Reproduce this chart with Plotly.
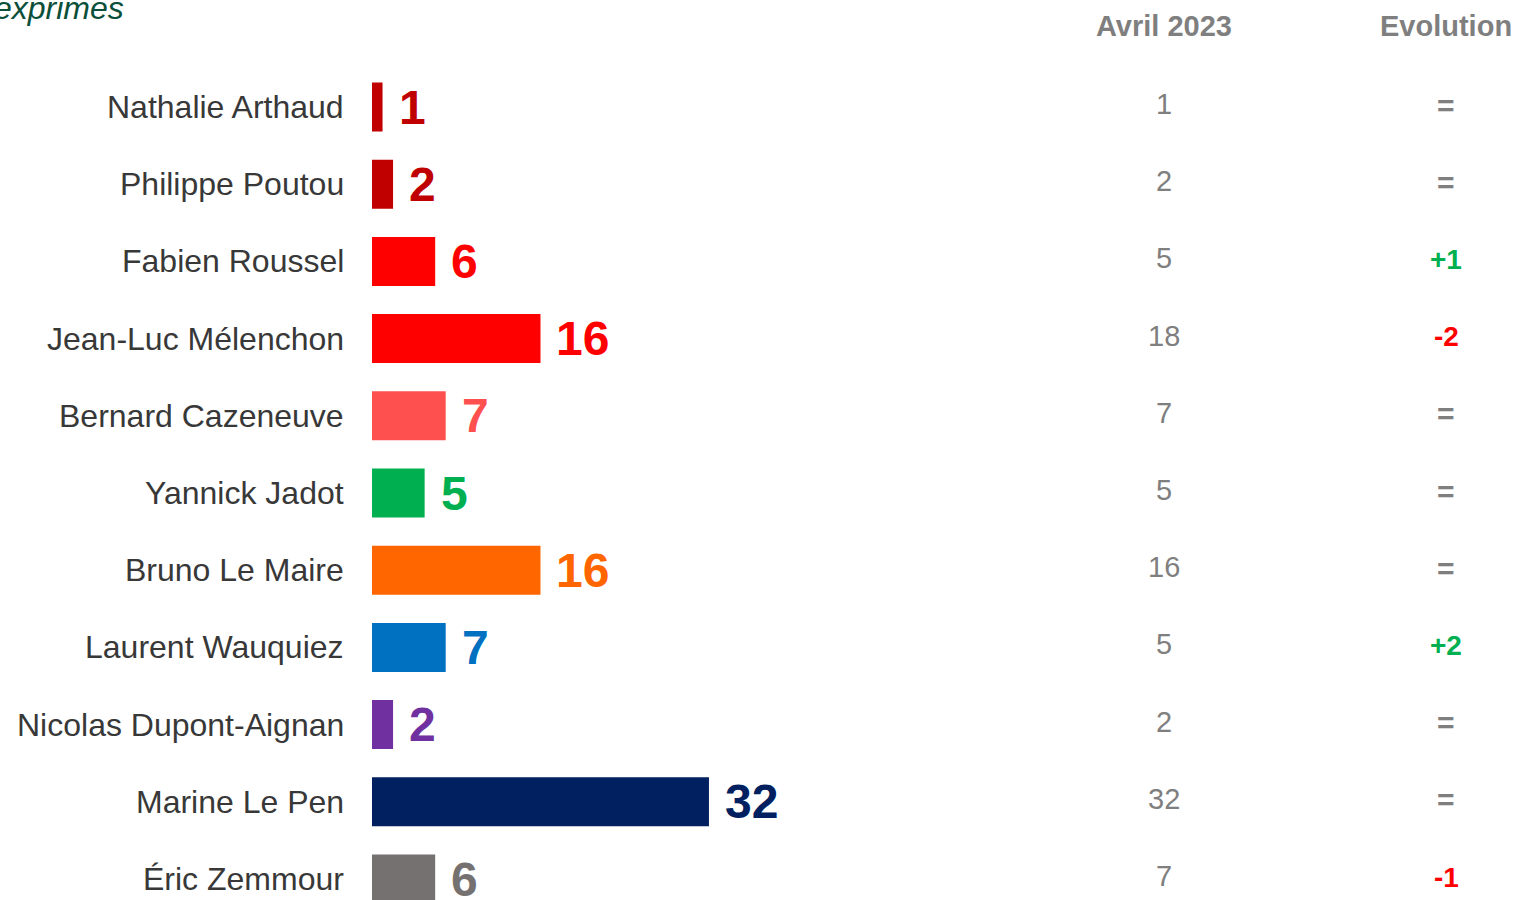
import plotly.graph_objects as go

candidates = ["Nathalie Arthaud", "Philippe Poutou", "Fabien Roussel", "Jean-Luc Mélenchon",
              "Bernard Cazeneuve", "Yannick Jadot", "Bruno Le Maire", "Laurent Wauquiez",
              "Nicolas Dupont-Aignan", "Marine Le Pen", "Éric Zemmour"]
values = [1, 2, 6, 16, 7, 5, 16, 7, 2, 32, 6]
avril_2023 = [1, 2, 5, 18, 7, 5, 16, 5, 2, 32, 7]
evolution = ["=", "=", "+1", "-2", "=", "=", "=", "+2", "=", "=", "-1"]
colors = ["#C00000", "#C00000", "#FF0000", "#FF0000", "#FF5050", "#00B050",
          "#FF6600", "#0070C0", "#7030A0", "#002060", "#767171"]

FONT = "Liberation Sans, Arial, sans-serif"
idx = list(range(len(candidates)))

fig = go.Figure()
fig.add_trace(go.Bar(
    y=idx, x=values, orientation="h", width=0.635,
    marker=dict(color=colors, line=dict(width=0)),
    hoverinfo="skip",
))

ann = []
for i, (name, v, a, e, c) in enumerate(zip(candidates, values, avril_2023, evolution, colors)):
    ann.append(dict(x=0, y=i, xref="x", yref="y", text=name, showarrow=False,
                    xanchor="right", yanchor="middle", xshift=-26,
                    font=dict(family=FONT, size=32, color="#383838")))
    ann.append(dict(x=v, y=i, xref="x", yref="y", text=f"<b>{v}</b>", showarrow=False,
                    xanchor="left", yanchor="middle", xshift=14,
                    font=dict(family=FONT, size=48, color=c)))
    ann.append(dict(x=1164 / 1515, y=i, xref="paper", yref="y", text=str(a), showarrow=False,
                    xanchor="center", yanchor="middle", yshift=3,
                    font=dict(family=FONT, size=29, color="#7f7f7f")))
    if e == "=":
        ecol = "#7f7f7f"
        esize = 30
    elif e.startswith("+"):
        ecol = "#00B050"
        esize = 28
    else:
        ecol = "#FF0000"
        esize = 28
    ann.append(dict(x=1446 / 1515, y=i, xref="paper", yref="y", text=f"<b>{e}</b>", showarrow=False,
                    xanchor="center", yanchor="middle", yshift=2,
                    font=dict(family=FONT, size=esize, color=ecol)))

ann.append(dict(x=1164 / 1515, y=1 - 26 / 900, xref="paper", yref="paper", text="<b>Avril 2023</b>",
                showarrow=False, xanchor="center", yanchor="middle",
                font=dict(family=FONT, size=29, color="#7f7f7f")))
ann.append(dict(x=1446 / 1515, y=1 - 26 / 900, xref="paper", yref="paper", text="<b>Evolution</b>",
                showarrow=False, xanchor="center", yanchor="middle",
                font=dict(family=FONT, size=29, color="#7f7f7f")))
ann.append(dict(x=126 / 1515, y=1 - 8 / 900, xref="paper", yref="paper", text="<i>exprimes</i>",
                showarrow=False, xanchor="right", yanchor="middle",
                font=dict(family=FONT, size=32, color="#0B4F3A")))

fig.update_layout(
    width=1515, height=900,
    margin=dict(l=0, r=0, t=0, b=0),
    paper_bgcolor="white", plot_bgcolor="white",
    showlegend=False,
    xaxis=dict(range=[-372 / 10.53, (1515 - 372) / 10.53], visible=False, fixedrange=True),
    yaxis=dict(range=[(900 - 107) / 77.2, -107 / 77.2], visible=False, fixedrange=True),
    annotations=ann,
)

fig.write_html("out.html", config={"displayModeBar": False},
               post_script="document.body.style.margin='0';document.body.style.overflow='hidden';")
